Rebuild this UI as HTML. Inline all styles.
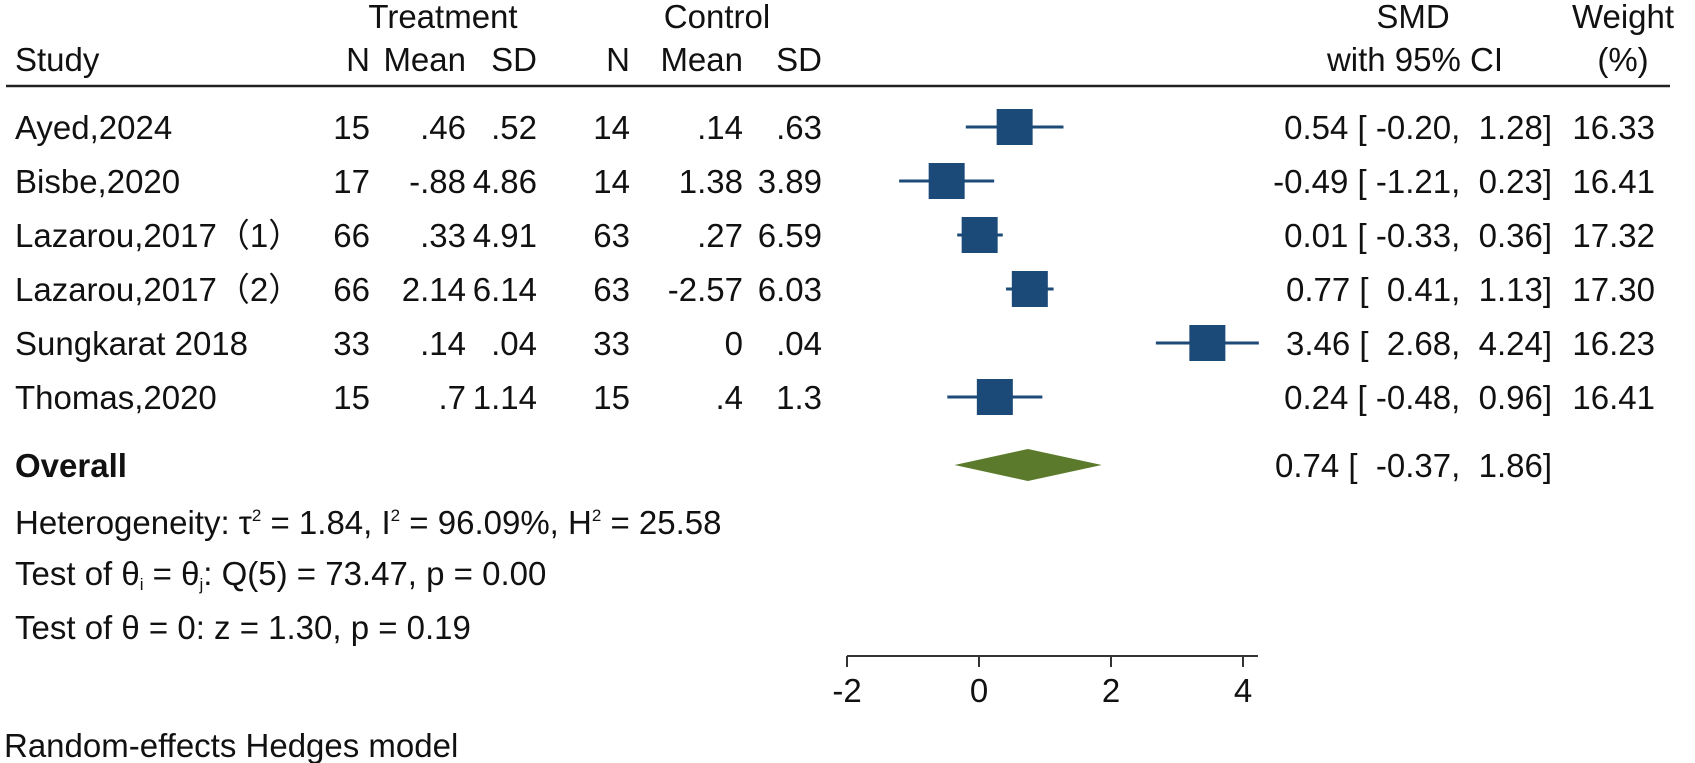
<!DOCTYPE html>
<html><head><meta charset="utf-8"><style>
body{margin:0;background:#fff}
svg{display:block;font-family:"Liberation Sans",sans-serif;font-size:33px;fill:#111}
text{white-space:pre}
</style></head><body>
<svg id="chart" width="1695" height="763" viewBox="0 0 1695 763">
<g>
<text x="443" y="28" text-anchor="middle">Treatment</text>
<text x="717" y="28" text-anchor="middle">Control</text>
<text x="1413" y="28" text-anchor="middle">SMD</text>
<text x="1623" y="28" text-anchor="middle">Weight</text>
<text x="15" y="71">Study</text>
<text x="370" y="71" text-anchor="end">N</text>
<text x="466" y="71" text-anchor="end">Mean</text>
<text x="537" y="71" text-anchor="end">SD</text>
<text x="630" y="71" text-anchor="end">N</text>
<text x="743" y="71" text-anchor="end">Mean</text>
<text x="822" y="71" text-anchor="end">SD</text>
<text x="1415" y="71" text-anchor="middle">with 95% CI</text>
<text x="1623" y="71" text-anchor="middle">(%)</text>
<line x1="6" y1="86" x2="1670" y2="86" stroke="#222" stroke-width="2.5"/>
</g>
<g id="rows"></g>
<g id="marks"></g>
<g id="axis"></g>
<text x="15" y="477" font-weight="bold">Overall</text>
<text x="1552" y="477" text-anchor="end">0.74 [  -0.37,  1.86]</text>
<text x="15" y="534">Heterogeneity: τ<tspan dy="-13" font-size="17">2</tspan><tspan dy="13"> = 1.84, I</tspan><tspan dy="-13" font-size="17">2</tspan><tspan dy="13"> = 96.09%, H</tspan><tspan dy="-13" font-size="17">2</tspan><tspan dy="13"> = 25.58</tspan></text>
<text x="15" y="585">Test of θ<tspan dy="5" font-size="17">i</tspan><tspan dy="-5"> = θ</tspan><tspan dy="5" font-size="17">j</tspan><tspan dy="-5">: Q(5) = 73.47, p = 0.00</tspan></text>
<text x="15" y="639">Test of θ = 0: z = 1.30, p = 0.19</text>
<text x="4" y="757">Random-effects Hedges model</text>
</svg>
<script>
const studies=["Ayed,2024","Bisbe,2020","Lazarou,2017（1）","Lazarou,2017（2）","Sungkarat 2018","Thomas,2020"];
const tN=["15","17","66","66","33","15"];
const tMean=[".46","-.88",".33","2.14",".14",".7"];
const tSD=[".52","4.86","4.91","6.14",".04","1.14"];
const cN=["14","14","63","63","33","15"];
const cMean=[".14","1.38",".27","-2.57","0",".4"];
const cSD=[".63","3.89","6.59","6.03",".04","1.3"];
const smd=[0.54,-0.49,0.01,0.77,3.46,0.24];
const lo=[-0.20,-1.21,-0.33,0.41,2.68,-0.48];
const hi=[1.28,0.23,0.36,1.13,4.24,0.96];
const weight=[16.33,16.41,17.32,17.30,16.23,16.41];
const overall=[0.74,-0.37,1.86];
const ticks=[-2,0,2,4];

const NS="http://www.w3.org/2000/svg";
const X=v=>979+66*v;
const rowY=i=>127+54*i;
function mk(tag,attrs,parent,txt){const e=document.createElementNS(NS,tag);for(const k in attrs)e.setAttribute(k,attrs[k]);if(txt!==undefined)e.textContent=txt;parent.appendChild(e);return e;}
const rows=document.getElementById('rows'),marks=document.getElementById('marks'),axis=document.getElementById('axis');
const f2=v=>v.toFixed(2);
const pad=v=>(v<0?'':' ')+f2(v);
studies.forEach((s,i)=>{
  const y=rowY(i)+12;
  const g=mk('g',{},rows);
  
  
  const cols=[[s,15,'start'],[tN[i],370,'end'],[tMean[i],466,'end'],[tSD[i],537,'end'],[cN[i],630,'end'],[cMean[i],743,'end'],[cSD[i],822,'end']];
  cols.forEach(c=>{const t=mk('text',{x:c[1],y:y,'text-anchor':c[2]},g,c[0]);
    
    });
  const ci=mk('text',{x:1552,y:y,'text-anchor':'end'},g,f2(smd[i])+' [ '+pad(lo[i])+', '+pad(hi[i])+']');
  
  
  const w=mk('text',{x:1655,y:y,'text-anchor':'end'},g,weight[i].toFixed(2));
  
  
  const l=mk('line',{x1:X(lo[i]),x2:X(hi[i]),y1:rowY(i),y2:rowY(i),stroke:'#1d4a77','stroke-width':3},marks);
  
  
  const r=mk('rect',{x:X(smd[i])-18,y:rowY(i)-18,width:36,height:36,fill:'#1c4a78'},marks);
  
  
});
const dy=465;
const d=mk('polygon',{points:`${X(overall[1])},${dy} ${X(overall[0])},${dy-16} ${X(overall[2])},${dy} ${X(overall[0])},${dy+16}`,fill:'#5b7a2c'},marks);


const al=mk('line',{x1:X(ticks[0]),x2:1258,y1:656,y2:656,stroke:'#333','stroke-width':2},axis);


ticks.forEach(t=>{
  const tl=mk('line',{x1:X(t),x2:X(t),y1:656,y2:667,stroke:'#333','stroke-width':2},axis);
  
  
  const tt=mk('text',{x:X(t),y:702,'text-anchor':'middle'},axis,String(t));
  
  
});
</script>
</body></html>
